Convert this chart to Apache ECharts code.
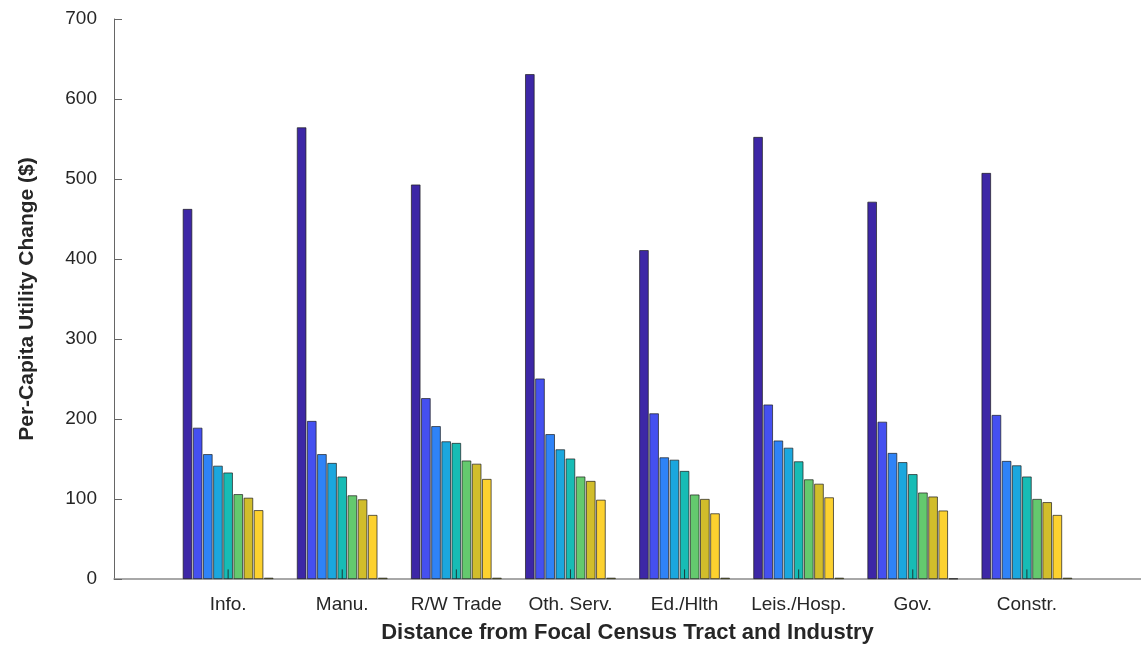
<!DOCTYPE html>
<html>
<head>
<meta charset="utf-8">
<script src="https://cdn.jsdelivr.net/npm/echarts@6/dist/echarts.min.js"></script>
<style>
html,body{margin:0;padding:0;background:#fff;}
#chart{width:1141px;height:647px;}
</style>
</head>
<body>
<div id="chart"></div>
<script>
// Categories (industries)
const industries = ['Info.', 'Manu.', 'R/W Trade', 'Oth. Serv.', 'Ed./Hlth', 'Leis./Hosp.', 'Gov.', 'Constr.'];
// Per-industry values for the 9 distance bins
const info     = [462.5, 189, 156, 141.5, 133, 106, 101.5, 86, 1.5];
const manu     = [564.5, 197.5, 156, 145, 128, 104.5, 99.5, 80, 1.5];
const rwTrade  = [493, 226, 191, 172, 170, 148, 144, 125, 1.5];
const othServ  = [631, 250.5, 181, 162, 150.5, 128, 122.5, 99, 1.5];
const edHlth   = [411, 207, 152, 149, 135, 105.5, 100, 82, 1.5];
const leisHosp = [552.5, 218, 173, 164, 147, 124.5, 119, 102, 1.5];
const gov      = [471.5, 196.5, 157.5, 146, 131, 108, 103, 85.5, 0.5];
const constr   = [507.5, 205, 147.5, 142, 128, 100, 96, 80, 1.5];
// small centre stem near the base of each group
const stems    = [12, 12, 12, 12, 12, 12, 12, 12];
const yTicks   = [0, 100, 200, 300, 400, 500, 600, 700];

const groups = [info, manu, rwTrade, othServ, edHlth, leisHosp, gov, constr];
const colors = ['#3d27a6', '#4550f0', '#2f83f7', '#1ba7de', '#17bcb5', '#64c96e', '#d1bd2b', '#fcd12f', '#f9fb0e'];

const cats = [''].concat(industries).concat(['']);
const series = [];
for (let s = 0; s < 9; s++) {
  const data = ['-'].concat(groups.map(g => g[s])).concat(['-']);
  series.push({
    type: 'bar',
    data: data,
    barWidth: 9.4,
    barGap: '8%',
    itemStyle: { color: colors[s], borderColor: '#1c1c1c', borderWidth: 0.7 },
    emphasis: { disabled: true },
    silent: true,
    z: 2
  });
}
series.push({
  type: 'custom',
  data: ['-'].concat(stems.map((v, i) => [i + 1, v])).concat(['-']),
  encode: { x: 0, y: 1 },
  renderItem: function (params, api) {
    const p0 = api.coord([api.value(0), 0]);
    const p1 = api.coord([api.value(0), api.value(1)]);
    return {
      type: 'line',
      shape: { x1: p0[0], y1: p0[1], x2: p1[0], y2: p1[1] },
      style: { stroke: '#1a3a3a', lineWidth: 1 }
    };
  },
  silent: true,
  z: 5
});

const chart = echarts.init(document.getElementById('chart'), null, { renderer: 'canvas' });
const fontFam = '"Liberation Sans", Arial, Helvetica, sans-serif';
chart.setOption({
  animation: false,
  backgroundColor: '#ffffff',
  grid: { left: 114, right: 0, top: 19, bottom: 68, containLabel: false, outerBoundsMode: 'none' },
  xAxis: {
    type: 'category',
    data: cats,
    boundaryGap: false,
    axisLine: { show: true, lineStyle: { color: '#8c8c8c', width: 1.5 } },
    axisTick: { show: false },
    axisLabel: { color: '#262626', fontSize: 19, fontFamily: fontFam, margin: 16, interval: 0 },
    name: 'Distance from Focal Census Tract and Industry',
    nameLocation: 'middle',
    nameGap: 43,
    nameTextStyle: { color: '#262626', fontSize: 22, fontWeight: 'bold', fontFamily: fontFam },
    splitLine: { show: false }
  },
  yAxis: {
    type: 'value',
    min: yTicks[0],
    max: yTicks[yTicks.length - 1],
    interval: 100,
    axisLine: { show: true, lineStyle: { color: '#666666', width: 1 } },
    axisTick: { show: true, inside: true, length: 8, lineStyle: { color: '#666666' } },
    axisLabel: { color: '#262626', fontSize: 19, fontFamily: fontFam, margin: 17 },
    splitLine: { show: false },
    name: 'Per-Capita Utility Change ($)',
    nameLocation: 'middle',
    nameGap: 76,
    nameRotate: 90,
    nameTextStyle: { color: '#262626', fontSize: 21, fontWeight: 'bold', fontFamily: fontFam }
  },
  series: series
});
</script>
</body>
</html>
